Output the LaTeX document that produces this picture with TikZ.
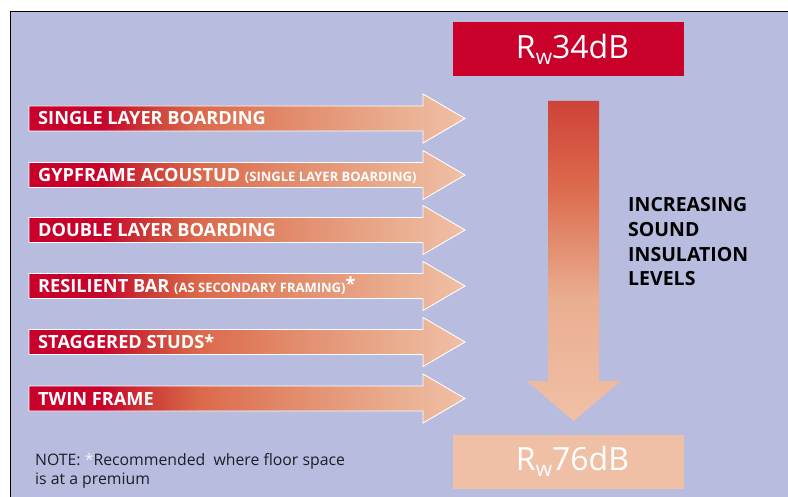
\documentclass[tikz,border=0pt]{standalone}
\usepackage{fontspec}
\setmainfont{Open Sans}

\definecolor{panel}{RGB}{184,188,222}
\definecolor{crimson}{RGB}{200,0,42}
\definecolor{brick}{RGB}{205,62,55}
\definecolor{flame}{RGB}{220,105,75}
\definecolor{clay}{RGB}{226,142,110}
\definecolor{salmon}{RGB}{234,174,144}
\definecolor{peach}{RGB}{240,192,166}
\definecolor{notegray}{RGB}{30,30,40}

% left-to-right fade for the wall arrows (25bp..75bp = path width)
\pgfdeclarehorizontalshading{barfade}{100bp}{color(0bp)=(crimson); color(25bp)=(crimson);
  color(33bp)=(crimson); color(39bp)=(brick); color(44.5bp)=(flame);
  color(56bp)=(clay); color(67.5bp)=(salmon); color(75bp)=(peach); color(100bp)=(peach)}
% bottom-to-top fade for the level arrow
\pgfdeclareverticalshading{levelfade}{100bp}{color(0bp)=(peach); color(25bp)=(peach);
  color(44bp)=(salmon); color(62bp)=(flame); color(75bp)=(brick!90!flame); color(100bp)=(brick)}

\newcommand{\paren}[1]{{\fontsize{13}{13}\selectfont #1}}
\newcommand{\rw}{\hspace{8pt}R\raisebox{-6pt}{\fontsize{21}{21}\selectfont w}}

\tikzset{
  wallarrow/.style={draw=white, line width=0.9pt, shading=barfade},
  walllabel/.style={anchor=base west, inner sep=0pt, text=white,
    font=\fontsize{18.2}{18.2}\selectfont\bfseries},
  ratingbox/.style={minimum width=231pt, minimum height=54pt, inner sep=0pt,
    text=white, font=\fontsize{32}{32}\selectfont},
}

\begin{document}
\begin{tikzpicture}[x=1pt, y=-1pt]
    \useasboundingbox (0,0) rectangle (788,497);
    % Background panel with its top and left edge
    \fill[panel] (10,12) rectangle (788,497);
    \draw[line width=1pt] (10,497) -- (10,12) -- (788,12);

    % Wall types, one arrow each
    \foreach \y/\t in {118.5/{SINGLE LAYER BOARDING},
                       175/{GYPFRAME ACOUSTUD \paren{(SINGLE LAYER BOARDING)}},
                       230/{DOUBLE LAYER BOARDING},
                       286/{RESILIENT BAR \paren{(AS SECONDARY FRAMING)}\raisebox{2pt}{*}},
                       342/{STAGGERED STUDS*},
                       398.5/{TWIN FRAME}} {
        \path[wallarrow] (29,\y-12.5) -- (423,\y-12.5) -- (423,\y-24.5) -- (465,\y)
            -- (423,\y+24.5) -- (423,\y+12.5) -- (29,\y+12.5) -- cycle;
        \node[walllabel] (wall\y) at (38,\y+6.5) {\t};
    }

    % Ratings and the arrow between them
    \node[ratingbox, fill=crimson] (low) at (568.5,49) {\rw34dB};
    \node[ratingbox, fill=peach] (high) at (568.5,461.5) {\rw76dB};
    \shade[shading=levelfade] (548,101) -- (599,101) -- (599,381) -- (621,381)
        -- (573.5,421) -- (527,381) -- (548,381) -- cycle;

    % base of a multi-line node sits on its last line
    \node[anchor=base west, inner sep=0pt, align=left,
          font=\fontsize{19.5}{24.7}\selectfont\bfseries] (levels) at (628,286)
        {INCREASING\\SOUND\\INSULATION\\LEVELS};

    % Footnote
    \node[anchor=base west, inner sep=0pt, align=left, text=notegray,
          font=\fontsize{15.8}{18.5}\selectfont] (note) at (35,484)
        {NOTE: \textcolor{white!85!panel}{*}Recommended\ \ where floor space\\is at a premium};
\end{tikzpicture}
\end{document}
